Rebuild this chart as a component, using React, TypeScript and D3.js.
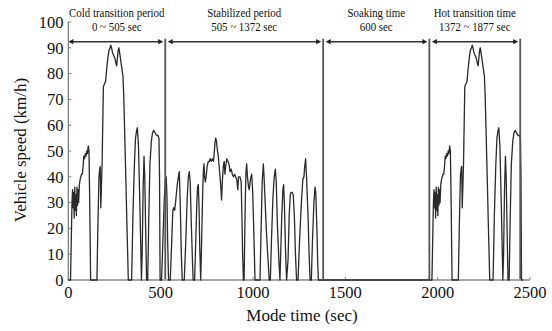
import React from "react";
import * as d3 from "d3";

// ---- data (time in s, speed in km/h) ----
const coldPhase: [number, number][] = [
  [0, 0], [12, 0], [16, 15], [20, 30], [23, 35], [26, 28], [29, 34], [32, 24], [35, 36], [38, 27],
  [41, 33], [44, 25], [47, 36], [50, 29], [53, 35], [56, 30], [60, 37], [64, 39], [68, 40], [72, 41],
  [76, 41], [80, 44], [84, 48], [88, 47], [92, 49], [96, 48], [100, 50], [104, 49], [108, 52], [112, 50],
  [116, 30], [121, 0], [155, 0], [160, 20], [166, 40], [170, 43], [173, 44], [176, 28], [179, 35], [183, 45],
  [187, 62], [190, 75], [196, 76], [202, 77], [208, 82], [214, 86], [220, 89], [226, 90], [230, 91], [234, 90],
  [240, 88], [246, 87], [252, 86], [258, 84], [262, 83], [266, 86], [270, 89], [274, 90], [278, 88], [284, 85],
  [290, 82], [296, 79], [300, 72], [305, 58], [312, 38], [318, 20], [325, 0], [343, 0], [350, 25], [358, 45],
  [364, 55], [370, 58], [374, 59], [380, 52], [388, 28], [396, 0], [400, 10], [405, 35], [410, 48], [414, 40],
  [420, 15], [424, 0], [430, 0], [436, 25], [442, 45], [450, 54], [456, 57], [462, 58], [470, 57], [478, 56],
  [486, 56], [491, 55], [494, 40], [497, 0],
];

const stabilizedPhase: [number, number][] = [
  [505, 0], [512, 15], [520, 32], [526, 39], [530, 40], [534, 33], [538, 15], [543, 0], [552, 0], [560, 15],
  [566, 27], [570, 28], [576, 27], [582, 31], [590, 37], [596, 40], [601, 42], [606, 30], [612, 10], [617, 0],
  [628, 0], [636, 15], [644, 32], [650, 40], [655, 42], [660, 38], [666, 22], [672, 8], [676, 0], [684, 0],
  [690, 15], [696, 30], [700, 36], [704, 37], [708, 28], [712, 12], [717, 0], [722, 15], [728, 35], [732, 43],
  [735, 45], [738, 40], [742, 38], [746, 40], [752, 44], [758, 46], [764, 46], [768, 47], [774, 46], [780, 47],
  [786, 46], [790, 49], [794, 53], [798, 55], [802, 54], [806, 51], [812, 48], [818, 43], [825, 37], [830, 31],
  [834, 38], [839, 44], [844, 46], [848, 41], [852, 44], [858, 47], [864, 46], [870, 45], [876, 42], [882, 43],
  [888, 41], [894, 40], [900, 41], [906, 40], [912, 39], [918, 35], [922, 40], [930, 40], [936, 38], [940, 25],
  [944, 10], [948, 0], [952, 0], [958, 30], [962, 42], [966, 45], [970, 40], [976, 36], [980, 35], [986, 39],
  [993, 41], [998, 35], [1004, 20], [1011, 0], [1038, 0], [1044, 20], [1050, 38], [1056, 45], [1060, 40], [1066, 30],
  [1072, 20], [1078, 12], [1084, 5], [1088, 0], [1094, 0], [1100, 15], [1108, 32], [1115, 40], [1121, 43], [1126, 38],
  [1132, 22], [1140, 8], [1146, 0], [1150, 10], [1156, 25], [1162, 35], [1166, 37], [1170, 30], [1176, 12], [1182, 0],
  [1190, 8], [1196, 25], [1202, 33], [1206, 34], [1212, 34], [1218, 33], [1224, 25], [1230, 10], [1236, 0], [1244, 0],
  [1252, 15], [1262, 30], [1270, 39], [1276, 40], [1280, 44], [1285, 47], [1290, 40], [1298, 25], [1304, 10], [1309, 0],
  [1316, 0], [1322, 15], [1330, 30], [1336, 36], [1340, 34], [1346, 20], [1350, 8], [1354, 0], [1372, 0],
];

const hotPhase: [number, number][] = [
  [1957, 0], [1969, 0], [1973, 15], [1977, 30], [1980, 35], [1983, 28], [1986, 34], [1989, 24], [1992, 36], [1995, 27],
  [1998, 33], [2001, 25], [2004, 36], [2007, 29], [2010, 35], [2013, 30], [2017, 37], [2021, 39], [2025, 40], [2029, 41],
  [2033, 41], [2037, 44], [2041, 48], [2045, 47], [2049, 49], [2053, 48], [2057, 50], [2061, 49], [2065, 52], [2069, 50],
  [2073, 30], [2078, 0], [2112, 0], [2117, 20], [2123, 40], [2127, 43], [2130, 44], [2133, 28], [2136, 35], [2140, 45],
  [2144, 62], [2147, 75], [2153, 76], [2159, 77], [2165, 82], [2171, 86], [2177, 89], [2183, 90], [2187, 91], [2191, 90],
  [2197, 88], [2203, 87], [2209, 86], [2215, 84], [2219, 83], [2223, 86], [2227, 89], [2231, 90], [2235, 88], [2241, 85],
  [2247, 82], [2253, 79], [2257, 72], [2262, 58], [2269, 38], [2275, 20], [2282, 0], [2300, 0], [2307, 25], [2315, 45],
  [2321, 55], [2327, 58], [2331, 59], [2337, 52], [2345, 28], [2353, 0], [2357, 10], [2362, 35], [2367, 48], [2371, 40],
  [2377, 15], [2381, 0], [2387, 0], [2393, 25], [2399, 45], [2407, 54], [2413, 57], [2419, 58], [2427, 57], [2435, 56],
  [2443, 56], [2448, 55], [2451, 40], [2454, 0], [2462, 0],
];

// boundary markers (as drawn in the figure)
const boundaries = [525, 1380, 1955, 2447];
const periodTitles = ["Cold transition period", "Stabilized period", "Soaking time", "Hot transition time"];
const periodRanges = ["0 ~ 505 sec", "505 ~ 1372 sec", "600 sec", "1372 ~ 1877 sec"];

const xTicks = [0, 500, 1000, 1500, 2000, 2500];
const yTicks = [0, 10, 20, 30, 40, 50, 60, 70, 80, 90, 100];

const xLabel = "Mode time (sec)";
const yLabel = "Vehicle speed (km/h)";

export default function App() {
  const W = 552, H = 331;
  const x = d3.scaleLinear().domain([0, 2500]).range([68.3, 530]);
  const y = d3.scaleLinear().domain([0, 100]).range([280, 22]);
  const all = [...coldPhase, ...stabilizedPhase, ...hotPhase];
  const line = d3.line<[number, number]>().x((d) => x(d[0])).y((d) => y(d[1]));
  const arrowY = 41.7;
  const fontStyle = { fontFamily: '"Liberation Serif", "DejaVu Serif", serif' };
  const starts = [0, ...boundaries.slice(0, -1)];

  const arrowHead = (tip: number, dir: number) => {
    const L = 5, h = 2.6;
    return `M${tip},${arrowY} L${tip - dir * L},${arrowY - h} L${tip - dir * L},${arrowY + h} Z`;
  };

  return (
    <svg width={W} height={H} style={{ position: "absolute", left: 0, top: 0, background: "#fff" }}>
      {/* axes */}
      <line x1={x(0)} x2={x(0)} y1={y(100)} y2={y(0)} stroke="#777" strokeWidth={1.2} />
      <line x1={x(0)} x2={x(2500)} y1={y(0)} y2={y(0)} stroke="#888" strokeWidth={1.4} />
      {yTicks.map((t) => (
        <g key={"y" + t}>
          <line x1={x(0)} x2={x(0) + 3} y1={y(t)} y2={y(t)} stroke="#777" strokeWidth={1} />
          <text x={63.5} y={y(t)} dy="0.35em" textAnchor="end" fontSize={16.5} fill="#111" style={fontStyle}>{t}</text>
        </g>
      ))}
      {xTicks.map((t) => (
        <g key={"x" + t}>
          <line x1={x(t)} x2={x(t)} y1={y(0)} y2={y(0) - 3} stroke="#888" strokeWidth={1} />
          <text x={x(t)} y={298} textAnchor="middle" fontSize={16.5} fill="#111" style={fontStyle}>{t}</text>
        </g>
      ))}
      <text x={302} y={321} textAnchor="middle" fontSize={17} fill="#111" style={fontStyle}>{xLabel}</text>
      <text transform={`translate(26,150) rotate(-90)`} textAnchor="middle" fontSize={17} fill="#111" style={fontStyle}>{yLabel}</text>

      {/* speed trace */}
      <path d={line(all) || ""} fill="none" stroke="#2a2a2a" strokeWidth={1.3} strokeLinejoin="round" />

      {/* boundary lines */}
      {boundaries.map((b) => (
        <line key={"b" + b} x1={x(b)} x2={x(b)} y1={arrowY - 3} y2={y(0) - 1} stroke="#555" strokeWidth={1.8} />
      ))}

      {/* arrows & labels */}
      {boundaries.map((b, i) => {
        const a = starts[i];
        const x1 = i === 0 ? x(0) : x(a) + 2.5;
        const x2 = x(b) - 2;
        const cx = (x(a) + x(b)) / 2;
        return (
          <g key={"p" + i}>
            <line x1={x1 + 2} x2={x2 - 2} y1={arrowY} y2={arrowY} stroke="#333" strokeWidth={1.4} />
            <path d={arrowHead(x1, -1)} fill="#222" />
            <path d={arrowHead(x2, 1)} fill="#222" />
            <text transform={`translate(${cx},17) scale(0.87,1)`} textAnchor="middle" fontSize={12.5} fill="#111" style={fontStyle}>
              {periodTitles[i]}
            </text>
            <text transform={`translate(${cx},31) scale(0.87,1)`} textAnchor="middle" fontSize={12.5} fill="#111" style={fontStyle}>
              {periodRanges[i]}
            </text>
          </g>
        );
      })}
    </svg>
  );
}
